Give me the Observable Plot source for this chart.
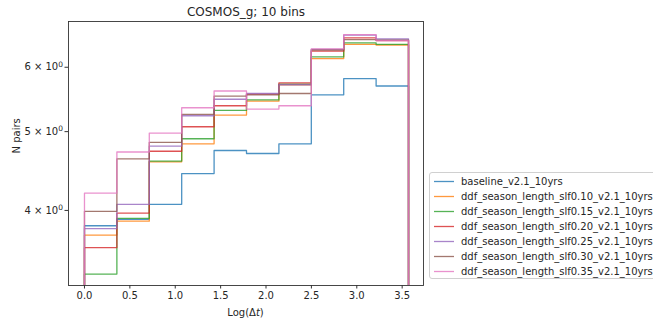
<!DOCTYPE html>
<html>
<head>
<meta charset="utf-8">
<script src="https://cdn.jsdelivr.net/npm/d3@7"></script>
<script src="https://cdn.jsdelivr.net/npm/@observablehq/plot@0.6"></script>
<style>
  html, body { margin: 0; padding: 0; background: white; overflow: hidden; }
  #wrap { position: relative; width: 653px; height: 321px; font-family: "DejaVu Sans", sans-serif; }
  #legend { position: absolute; left: 429px; top: 172px; width: 240px; height: 107px;
    border: 1px solid #d0d0d0; border-radius: 3px; background: rgba(255,255,255,0.8); box-sizing: border-box; }
  #legend .row { position: absolute; left: 0; height: 15px; font-size: 10px; color: #262626; white-space: nowrap; }
  #legend svg { position: absolute; left: 3px; top: 0; }
  #legend span { position: absolute; left: 31px; top: 0; line-height: 15px; }
</style>
</head>
<body>
<div id="wrap"></div>
<script>
const title = "COSMOS_g; 10 bins";
const yLabel = "N pairs";
const seriesNames = [
  "baseline_v2.1_10yrs",
  "ddf_season_length_slf0.10_v2.1_10yrs",
  "ddf_season_length_slf0.15_v2.1_10yrs",
  "ddf_season_length_slf0.20_v2.1_10yrs",
  "ddf_season_length_slf0.25_v2.1_10yrs",
  "ddf_season_length_slf0.30_v2.1_10yrs",
  "ddf_season_length_slf0.35_v2.1_10yrs"
];
const colors = ["#1f77b4", "#ff7f0e", "#2ca02c", "#d62728", "#9467bd", "#8c564b", "#e377c2"];
const binEdges = [0, 0.357, 0.714, 1.071, 1.428, 1.785, 2.142, 2.499, 2.856, 3.213, 3.57];
const baseline = [3.83, 3.90, 4.07, 4.44, 4.74, 4.70, 4.83, 5.55, 5.81, 5.69];
const slf010 = [3.73, 3.88, 4.59, 4.83, 5.24, 5.45, 5.71, 6.15, 6.40, 6.39];
const slf015 = [3.34, 3.91, 4.60, 4.90, 5.31, 5.47, 5.72, 6.18, 6.43, 6.40];
const slf020 = [3.60, 3.97, 4.73, 5.07, 5.38, 5.56, 5.74, 6.28, 6.52, 6.47];
const slf025 = [3.80, 4.07, 4.80, 5.23, 5.48, 5.57, 5.71, 6.31, 6.57, 6.50];
const slf030 = [3.99, 4.63, 4.85, 5.25, 5.53, 5.55, 5.57, 6.30, 6.49, 6.48];
const slf035 = [4.20, 4.72, 4.98, 5.35, 5.61, 5.33, 5.38, 6.32, 6.58, 6.47];
const allValues = [baseline, slf010, slf015, slf020, slf025, slf030, slf035];
const xTicks = [0, 0.5, 1, 1.5, 2, 2.5, 3, 3.5];
const yTicks = [4, 5, 6];
const floorValue = 1; // histogram step drops below the visible log range

// build step rows: start at floor, each bin's left edge, final right edge, back to floor
const rows = [];
seriesNames.forEach((name, s) => {
  const vals = allValues[s];
  rows.push({series: name, x: binEdges[0], y: floorValue});
  vals.forEach((v, i) => rows.push({series: name, x: binEdges[i], y: v}));
  rows.push({series: name, x: binEdges[binEdges.length - 1], y: vals[vals.length - 1]});
  rows.push({series: name, x: binEdges[binEdges.length - 1], y: floorValue});
});

const chart = Plot.plot({
  width: 653,
  height: 321,
  marginLeft: 68,
  marginRight: 230,
  marginTop: 21,
  marginBottom: 36,
  style: {fontFamily: "DejaVu Sans, sans-serif", fontSize: "10px", color: "#262626", background: "white"},
  x: {domain: [-0.176, 3.735]},
  y: {type: "log", domain: [3.234, 6.83]},
  color: {domain: seriesNames, range: colors},
  marks: [
    Plot.line(rows, {x: "x", y: "y", z: "series", stroke: "series", curve: "step-after",
      clip: true, strokeWidth: 1.3, strokeOpacity: 0.8}),
    Plot.frame({stroke: "#333", strokeWidth: 0.9}),
    Plot.axisX({ticks: xTicks, tickFormat: d => d.toFixed(1), tickSize: 3.5, tickPadding: 3, label: null, stroke: "#333"}),
    Plot.axisY({ticks: yTicks, tickFormat: d => `${d} × 10^0`, tickSize: 3.5, tickPadding: 2, label: null, stroke: "#333",
      ariaLabel: "y-axis tick label"}),
    Plot.text([title], {frameAnchor: "top", dy: -9, lineAnchor: "middle", fontSize: 12, text: d => d, fill: "#262626"}),
    Plot.text([yLabel], {frameAnchor: "left", dx: -52, rotate: -90, lineAnchor: "middle", text: d => d, fill: "#262626"})
  ]
});

const wrap = document.getElementById("wrap");
wrap.appendChild(chart);

const svg = d3.select(chart);

// superscript exponent on y tick labels
svg.selectAll("text").each(function () {
  const t = this.textContent;
  const m = /^(\d) × 10\^(\d)$/.exec(t);
  if (m) {
    const sel = d3.select(this);
    sel.text(null);
    sel.append("tspan").text(`${m[1]} × 10`);
    sel.append("tspan").attr("dy", "-0.45em").attr("font-size", "7.5px").text(m[2]);
  }
});

// x label with italic t
const xl = svg.append("text")
  .attr("x", (68 + 423) / 2)
  .attr("y", 313)
  .attr("text-anchor", "middle")
  .attr("dominant-baseline", "middle")
  .attr("font-size", 10)
  .attr("fill", "#262626");
xl.append("tspan").text("Log(Δ");
xl.append("tspan").attr("font-style", "italic").text("t");
xl.append("tspan").text(")");

// legend
const legend = document.createElement("div");
legend.id = "legend";
seriesNames.forEach((name, i) => {
  const row = document.createElement("div");
  row.className = "row";
  row.style.top = (0.5 + i * 15) + "px";
  row.innerHTML = `<svg width="22" height="15"><line x1="1" x2="21" y1="7.5" y2="7.5" stroke="${colors[i]}" stroke-opacity="0.8" stroke-width="1.3"/></svg><span>${name}</span>`;
  legend.appendChild(row);
});
wrap.appendChild(legend);
</script>
</body>
</html>
